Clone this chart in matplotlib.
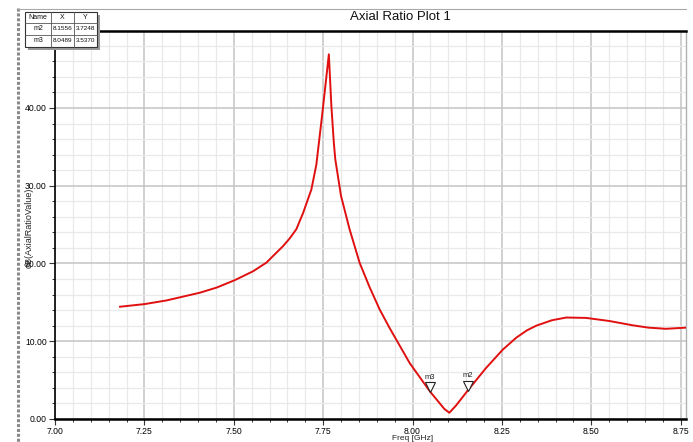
import matplotlib
matplotlib.use("Agg")
import matplotlib.pyplot as plt
import matplotlib.transforms as mtransforms
from matplotlib.patches import Rectangle
from matplotlib.lines import Line2D
from matplotlib.ticker import MultipleLocator, FormatStrFormatter

# ---- data ----
freq_ghz = [7.182, 7.251, 7.312, 7.405, 7.452, 7.503, 7.554, 7.591, 7.638, 7.656,
            7.675, 7.694, 7.717, 7.731, 7.749, 7.766, 7.773, 7.780, 7.784, 7.800,
            7.824, 7.852, 7.880, 7.908, 7.936, 7.992, 8.0489, 8.089, 8.103, 8.122,
            8.1556, 8.2055, 8.252, 8.290, 8.320, 8.346, 8.390, 8.430, 8.486, 8.551,
            8.616, 8.660, 8.709, 8.765]
axial_ratio_db = [14.44, 14.78, 15.25, 16.24, 16.90, 17.86, 19.00, 20.10, 22.24, 23.20,
                  24.40, 26.50, 29.50, 32.70, 39.80, 46.90, 40.30, 35.50, 33.40, 28.70,
                  24.40, 20.10, 16.95, 14.10, 11.70, 7.20, 3.537, 1.30, 0.80, 1.75,
                  3.7248, 6.55, 8.90, 10.45, 11.40, 12.00, 12.70, 13.05, 13.00, 12.60,
                  12.05, 11.75, 11.60, 11.75]

marker_names = ["m2", "m3"]
marker_x = [8.1556, 8.0489]
marker_y = [3.7248, 3.5370]

x_ticks = [7.00, 7.25, 7.50, 7.75, 8.00, 8.25, 8.50, 8.75]
y_ticks = [0, 10, 20, 30, 40]

title_text = "Axial Ratio Plot 1"
x_label = "Freq [GHz]"
y_label = "dB(AxialRatioValue)"

# ---- figure ----
W, H = 693, 442
plt.rcParams['font.family'] = ['Liberation Sans', 'DejaVu Sans']
fig = plt.figure(figsize=(W / 100, H / 100), dpi=100)
fig.patch.set_facecolor('white')

def fx(px):
    return px / W

def fy(py):
    return 1 - py / H

ax_l, ax_r, ax_t, ax_b = 55, 686, 31, 419
ax = fig.add_axes([fx(ax_l), fy(ax_b), fx(ax_r) - fx(ax_l), fy(ax_t) - fy(ax_b)])

ax.plot(freq_ghz, axial_ratio_db, color='#e01010', lw=1.4, zorder=3,
        solid_joinstyle='round')

ax.set_xlim(7.0, 8.765)
ax.set_ylim(0, 49.9)
ax.set_xticks(x_ticks)
ax.set_yticks(y_ticks)
ax.xaxis.set_minor_locator(MultipleLocator(0.05))
ax.yaxis.set_minor_locator(MultipleLocator(2))
ax.xaxis.set_major_formatter(FormatStrFormatter('%.2f'))
ax.yaxis.set_major_formatter(FormatStrFormatter('%.2f'))

ax.grid(which='major', color='#c4c4c4', lw=1.1, zorder=0)
ax.grid(which='minor', color='#e9e9e9', lw=0.9, zorder=0)
ax.set_axisbelow(True)

ax.tick_params(axis='both', which='major', direction='out', length=4, width=0.8,
               color='#333333', labelsize=6.2, pad=2)
ax.tick_params(axis='both', which='minor', direction='out', length=2.5, width=0.7,
               color='#333333')
ax.tick_params(axis='x', which='major', pad=1.5)

ax.spines['bottom'].set_linewidth(1.8)
ax.spines['top'].set_linewidth(1.8)
ax.spines['left'].set_linewidth(1.2)
ax.spines['right'].set_color('#b0b0b0')
ax.spines['right'].set_linewidth(1.0)

# markers: downward triangles whose tip touches the curve
for name, mx, my in zip(marker_names, marker_x, marker_y):
    tr = mtransforms.offset_copy(ax.transData, fig=fig, x=0, y=3.2, units='points')
    ax.plot([mx], [my], marker='v', markersize=6.5, markerfacecolor='white',
            markeredgecolor='#222222', markeredgewidth=0.8, transform=tr, zorder=5,
            clip_on=False)
    tr2 = mtransforms.offset_copy(ax.transData, fig=fig, x=0, y=7.8, units='points')
    ax.text(mx, my, name, transform=tr2, ha='center', va='bottom', fontsize=5.5,
            color='#222222', zorder=5)

# titles / labels
fig.text(fx(400), fy(17), title_text, ha='center', va='center', fontsize=9.5,
         color='#111111')
fig.text(fx(413), fy(438), x_label, ha='center', va='center', fontsize=6,
         color='#222222')
fig.text(fx(29), fy(228), y_label, ha='center', va='center', rotation=90, fontsize=6.5,
         color='#222222')

# outer window frame lines
fig.add_artist(Line2D([fx(18), fx(18)], [fy(8), fy(442)], color='#8a8a8a', lw=2.2,
                      linestyle=(0, (1, 0.6))))
fig.add_artist(Line2D([fx(18), fx(686)], [fy(9), fy(9)], color='#a8a8a8', lw=0.8))

# marker table (top-left)
tl, tr_, tt, tb = 25, 97, 12, 47
shadow = Rectangle((fx(tl + 3), fy(tb + 3)), fx(tr_) - fx(tl), fy(tt) - fy(tb),
                   transform=fig.transFigure, facecolor='#9a9a9a', edgecolor='none',
                   zorder=10)
fig.add_artist(shadow)
table_bg = Rectangle((fx(tl), fy(tb)), fx(tr_) - fx(tl), fy(tt) - fy(tb),
                     transform=fig.transFigure, facecolor='white', edgecolor='#333333',
                     lw=0.8, zorder=11)
fig.add_artist(table_bg)
row_lines = [23, 35]
col_lines = [51, 74]
for ry in row_lines:
    fig.add_artist(Line2D([fx(tl), fx(tr_)], [fy(ry), fy(ry)], color='#555555', lw=0.6,
                          zorder=12))
for cx in col_lines:
    fig.add_artist(Line2D([fx(cx), fx(cx)], [fy(tt), fy(tb)], color='#555555', lw=0.6,
                          zorder=12))
header = ["Name", "X", "Y"]
col_centers = [38, 62.5, 85.5]
row_centers = [17.5, 29, 41]
for c, h in zip(col_centers, header):
    fig.text(fx(c), fy(row_centers[0]), h, ha='center', va='center', fontsize=5,
             color='#111111', zorder=13)
for r, (name, mx, my) in enumerate(zip(marker_names, marker_x, marker_y)):
    vals = [name, f"{mx:.4f}", f"{my:.4f}"]
    for c, v in zip(col_centers, vals):
        fig.text(fx(c), fy(row_centers[r + 1]), v, ha='center', va='center',
                 fontsize=4.6 if r >= 0 and c != col_centers[0] else 5,
                 color='#111111', zorder=13)

fig.savefig("out.png", dpi=100, facecolor='white')
